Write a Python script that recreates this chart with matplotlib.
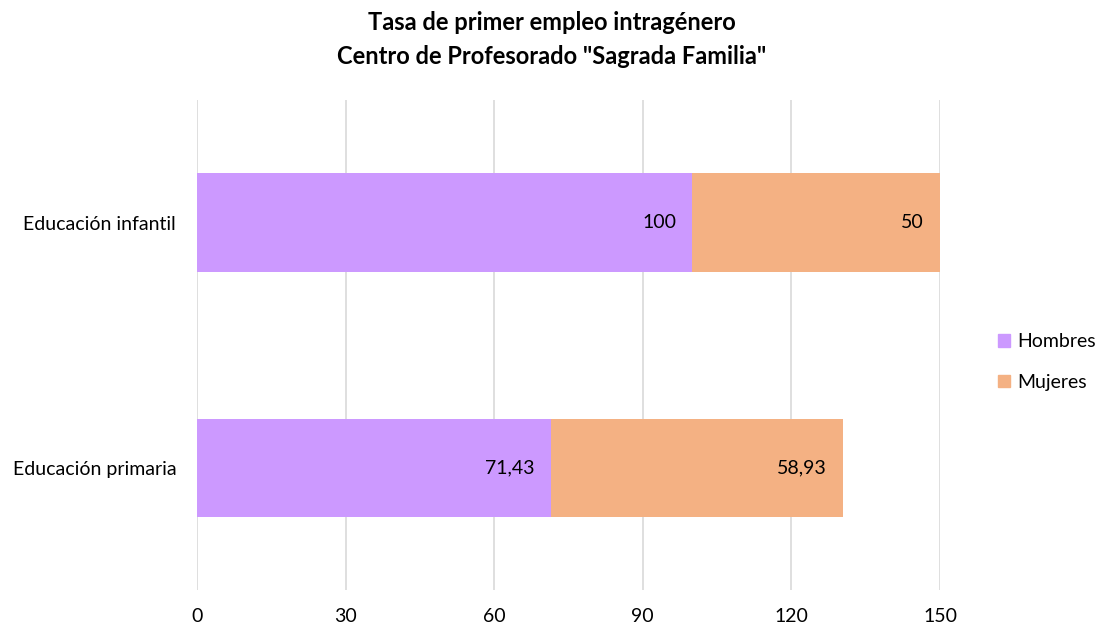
import matplotlib
matplotlib.use("Agg")
import matplotlib.pyplot as plt
from matplotlib.patches import Patch

plt.rcParams['font.family'] = ['Lato', 'DejaVu Sans']

categories = ["Educación primaria", "Educación infantil"]
hombres = [71.43, 100]
mujeres = [58.93, 50]
hombres_labels = ["71,43", "100"]
mujeres_labels = ["58,93", "50"]
xticks = [0, 30, 60, 90, 120, 150]

c_h = "#CC99FF"
c_m = "#F4B183"
FS = 14

fig = plt.figure(figsize=(11.03, 6.29), dpi=100)
ax = fig.add_axes([197/1103, 1-590/629, 743/1103, 490/629])

y = range(len(categories))
b1 = ax.barh(y, hombres, height=0.4, color=c_h)
b2 = ax.barh(y, mujeres, left=hombres, height=0.4, color=c_m)

for bars, labels in ((b1, hombres_labels), (b2, mujeres_labels)):
    for rect, lab in zip(bars, labels):
        ax.annotate(lab, (rect.get_x()+rect.get_width(), rect.get_y()+rect.get_height()/2),
                    xytext=(-11.5, 0), textcoords="offset points", ha="right", va="center",
                    fontsize=FS, color="#000000")

ax.set_xlim(0, 150)
ax.set_ylim(-0.5, 1.5)
ax.set_xticks(xticks)
ax.set_xticklabels([str(t) for t in xticks], fontsize=FS)
ax.set_yticks(list(y))
ax.set_yticklabels(categories, fontsize=FS)
ax.tick_params(length=0, pad=13, axis='x')
ax.tick_params(length=0, pad=15, axis='y')
ax.grid(axis='x', color="#D9D9D9", linewidth=1.2)
ax.set_axisbelow(True)
for s in ax.spines.values():
    s.set_visible(False)

fig.text(0.5, 1-23/629, "Tasa de primer empleo intragénero", ha="center", va="center",
         fontsize=17, fontweight="bold")
fig.text(0.5, 1-56/629, "Centro de Profesorado \"Sagrada Familia\"", ha="center", va="center",
         fontsize=17, fontweight="bold")

handles = [Patch(color=c_h, label="Hombres"), Patch(color=c_m, label="Mujeres")]
fig.legend(handles=handles, loc="center left", bbox_to_anchor=(998/1103, 1-362/629),
           frameon=False, fontsize=FS, handlelength=0.6, handleheight=0.6,
           handletextpad=0.4, labelspacing=1.2, borderpad=0, borderaxespad=0)

fig.savefig("out.png", dpi=100)
